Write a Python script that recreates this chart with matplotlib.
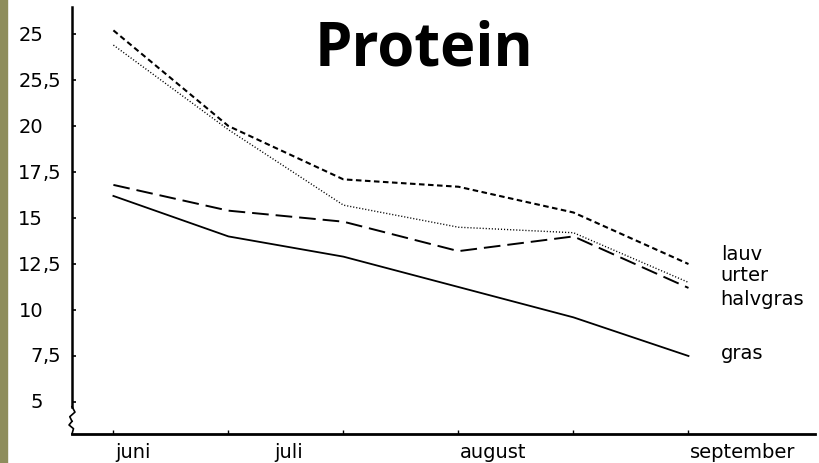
import numpy as np
import matplotlib
matplotlib.use("Agg")
from matplotlib import pyplot as plt
from matplotlib.patches import Rectangle
import matplotlib.transforms as mtransforms

# Daten
punkte = np.arange(6)
lauv = [25.2, 20.0, 17.1, 16.7, 15.3, 12.5]
urter = [24.4, 19.8, 15.7, 14.5, 14.2, 11.5]
halvgras = [16.8, 15.4, 14.8, 13.2, 14.0, 11.2]
gras = [16.2, 14.0, 12.9, 11.25, 9.6, 7.5]

monate = ["juni", "juli", "august", "september"]
monat_pos = [0.17, 1.52, 3.3, 5.47]

yticks = [25, 22.5, 20, 17.5, 15, 12.5, 10, 7.5, 5]
ytick_int = ["25", "25", "20", "17", "15", "12", "10", "7", "5"]
ytick_dec = ["", ",5", "", ",5", "", ",5", "", ",5", ""]

serien = ["lauv", "urter", "halvgras", "gras"]
label_y = [13.05, 11.95, 10.65, 7.7]

plt.rcParams['lines.scale_dashes'] = False

fig = plt.figure(figsize=(8.19, 4.64), dpi=100)
fig.patches.append(Rectangle((0, 0), 7 / 819, 1, transform=fig.transFigure,
                             color="#8e8d5c", zorder=0))
ax = fig.add_axes([72 / 819, 29 / 464, 743 / 819, 427 / 464])

ax.plot(punkte, lauv, color="k", lw=1.5, dashes=(4, 2.5))
ax.plot(punkte, urter, color="k", lw=1.0, dashes=(0.8, 1.4))
ax.plot(punkte, halvgras, color="k", lw=1.4, dashes=(12, 5))
ax.plot(punkte, gras, color="k", lw=1.3)

ax.set_xlim(-0.36, 6.1)
ax.set_ylim(3.26, 26.47)

for s in ["top", "right", "left"]:
    ax.spines[s].set_visible(False)
ax.spines["bottom"].set_linewidth(2)

# y-Achse mit Bruch
trans = mtransforms.blended_transform_factory(ax.transAxes, ax.transData)
ax.plot([0, 0], [26.47, 4.75], color="k", lw=1.8, transform=trans, clip_on=False)
ax.plot([0, 0.004, -0.003, 0.0], [4.75, 4.45, 4.2, 3.95], color="k", lw=1.2,
        transform=trans, clip_on=False)
ax.plot([0.0, -0.004, 0.002, 0], [3.95, 3.75, 3.55, 3.26], color="k", lw=1.2,
        transform=trans, clip_on=False)

ax.set_yticks(yticks)
ax.set_yticklabels([])
ax.tick_params(axis="y", direction="in", length=3, width=1.2)
for v, a, b in zip(yticks, ytick_int, ytick_dec):
    ax.text(-0.039, v, a, transform=trans, ha="right", va="center", fontsize=14)
    if b:
        ax.text(-0.039, v, b, transform=trans, ha="left", va="center", fontsize=14)

ax.set_xticks(punkte)
ax.set_xticklabels([])
ax.tick_params(axis="x", direction="in", length=3, width=1)
transx = mtransforms.blended_transform_factory(ax.transData, ax.transAxes)
for m, p in zip(monate, monat_pos):
    ax.text(p, -0.04, m, transform=transx, ha="center", va="center", fontsize=14)

for n, yv in zip(serien, label_y):
    ax.text(5.28, yv, n, ha="left", va="center", fontsize=14)

fig.text(424 / 819, 1 - 50 / 464, "Protein", ha="center", va="center",
         fontsize=43, fontweight="bold", family="Open Sans")

fig.savefig("out.png", dpi=100)
